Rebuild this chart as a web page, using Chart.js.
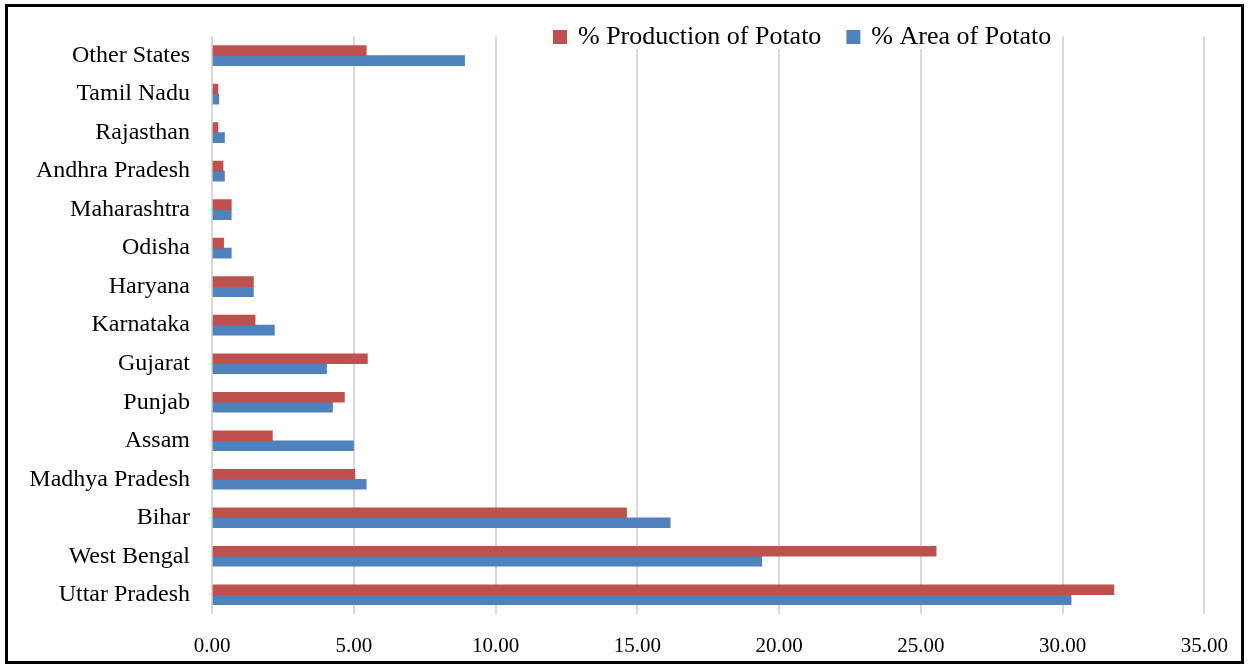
<!DOCTYPE html>
<html>
<head>
<meta charset="utf-8">
<title>Potato production and area by state</title>
<script src="https://cdn.jsdelivr.net/npm/chart.js@4.4.1/dist/chart.umd.min.js"></script>
<style>
    html, body { margin: 0; padding: 0; background: #fff; }
    #wrap { width: 1248px; height: 666px; position: relative; }
</style>
</head>
<body>
<div id="wrap"><canvas id="chartEstados"></canvas></div>
<script>
// states, top to bottom
const estados = [
    "Other States", "Tamil Nadu", "Rajasthan", "Andhra Pradesh", "Maharashtra",
    "Odisha", "Haryana", "Karnataka", "Gujarat", "Punjab", "Assam",
    "Madhya Pradesh", "Bihar", "West Bengal", "Uttar Pradesh"
];

const producao = [5.44, 0.21, 0.21, 0.39, 0.68, 0.41, 1.46, 1.52, 5.48, 4.67, 2.13, 5.04, 14.62, 25.54, 31.81];
const area     = [8.91, 0.24, 0.44, 0.44, 0.68, 0.68, 1.46, 2.20, 4.04, 4.25, 4.99, 5.44, 16.16, 19.39, 30.30];

const ticksX = [0, 5, 10, 15, 20, 25, 30, 35];

const FONTE = "'Liberation Serif', 'Times New Roman', serif";
Chart.defaults.font.family = FONTE;
Chart.defaults.color = "#000";

/* =========================
   moldura preta
========================= */
const moldura = {
    id: "moldura",
    afterDraw(chart) {
        const ctx = chart.ctx;
        ctx.save();
        ctx.strokeStyle = "#000";
        ctx.lineWidth = 3;
        ctx.strokeRect(6.5, 5.5, 1236, 657);
        ctx.restore();
    }
};

/* =========================
   legenda dentro do gráfico
========================= */
const legenda = {
    id: "legenda",
    afterDraw(chart) {
        const ctx = chart.ctx;
        ctx.save();
        ctx.font = "26px " + FONTE;
        ctx.textBaseline = "middle";
        let x = 553;
        const y = 37;
        chart.data.datasets.forEach(ds => {
            const w = ctx.measureText(ds.label).width;
            ctx.fillStyle = "#fff";
            ctx.fillRect(x - 2, y - 12, w + 28, 24);
            ctx.fillStyle = ds.backgroundColor;
            ctx.fillRect(x, y - 7, 14, 14);
            ctx.fillStyle = "#000";
            ctx.fillText(ds.label, x + 25, y);
            x += 25 + w + 25;
        });
        ctx.restore();
    }
};

new Chart(document.getElementById("chartEstados"), {
    type: "bar",
    data: {
        labels: estados,
        datasets: [
            {
                label: "% Production of Potato",
                data: producao,
                backgroundColor: "#C0504D",
                barThickness: 10
            },
            {
                label: "% Area of Potato",
                data: area,
                backgroundColor: "#4F81BD",
                barThickness: 10
            }
        ]
    },
    options: {
        indexAxis: "y",
        responsive: true,
        maintainAspectRatio: false,
        animation: false,
        layout: { padding: { top: 35, right: 42, bottom: 0, left: 0 } },
        plugins: {
            legend: { display: false },
            tooltip: { enabled: false }
        },
        scales: {
            x: {
                min: 0,
                max: 35,
                afterBuildTicks: s => { s.ticks = ticksX.map(v => ({ value: v })); },
                afterFit: s => { s.height = 52; },
                grid: { color: "#D9D9D9", lineWidth: 2, drawTicks: false },
                border: { display: false },
                ticks: {
                    padding: 20,
                    font: { size: 21 },
                    callback: v => Number(v).toFixed(2)
                }
            },
            y: {
                afterFit: s => { s.width = 212; },
                grid: { display: false, drawTicks: false },
                border: { display: false },
                ticks: { padding: 22, font: { size: 24 } }
            }
        }
    },
    plugins: [moldura, legenda]
});
</script>
</body>
</html>
